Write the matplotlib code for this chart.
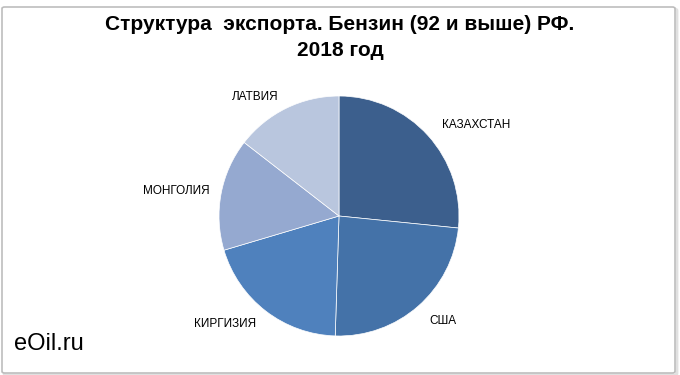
import matplotlib
matplotlib.use("Agg")
import matplotlib.pyplot as plt
from matplotlib.patches import FancyBboxPatch
import numpy as np

# ------------- data -------------
countries = ["КАЗАХСТАН", "США", "КИРГИЗИЯ", "МОНГОЛИЯ", "ЛАТВИЯ"]
shares = [26.6, 23.9, 19.9, 15.1, 14.5]
colors = ["#3C5F8D", "#4472A8", "#4F81BD", "#95A9D0", "#B9C6DE"]

plt.rcParams["font.family"] = ["Liberation Sans", "DejaVu Sans"]

W, H = 680, 375
fig = plt.figure(figsize=(W / 100, H / 100), dpi=100)
fig.patch.set_facecolor("white")

# outer frame (with a faint shadow)
shadow = FancyBboxPatch((4 / W, 0 / H), 673 / W, 366 / H,
                        boxstyle="round,pad=0,rounding_size=0.004",
                        transform=fig.transFigure, fill=False,
                        edgecolor="#E0E0E0", linewidth=2, zorder=-2)
frame = FancyBboxPatch((2 / W, 2 / H), 673 / W, 366 / H,
                       boxstyle="round,pad=0,rounding_size=0.004",
                       transform=fig.transFigure, facecolor="white",
                       edgecolor="#BDBDBD", linewidth=1.2, zorder=-1)
fig.patches.append(shadow)
fig.patches.append(frame)

# pie centre (339, 216) px, radius 120 px
cx, cy, r = 339, H - 216, 120
ax = fig.add_axes([(cx - r) / W, (cy - r) / H, 2 * r / W, 2 * r / H])
ax.set_zorder(1)
ax.patch.set_visible(False)
wedges, _ = ax.pie(shares, colors=colors, startangle=90, counterclock=False,
                   wedgeprops={"linewidth": 0.5, "edgecolor": "white"})
ax.set_xlim(-1, 1)
ax.set_ylim(-1, 1)
ax.axis("off")

# label placement (angle shift in degrees, distance in radii)
lab_pos = [(-8.5, 1.37), (3.6, 1.23), (-8.8, 1.31), (1.9, 1.37), (9.2, 1.21)]
for w, name, (da, dist) in zip(wedges, countries, lab_pos):
    mid = np.deg2rad((w.theta1 + w.theta2) / 2 + da)
    ax.text(dist * np.cos(mid), dist * np.sin(mid), name,
            ha="center", va="center", fontsize=8.5, color="black", clip_on=False)

fig.text(340 / W, 1 - 25 / H, "Структура  экспорта. Бензин (92 и выше) РФ.",
         ha="center", va="center", fontsize=15, fontweight="bold")
fig.text(340 / W, 1 - 50 / H, "2018 год",
         ha="center", va="center", fontsize=15, fontweight="bold")
fig.text(14 / W, 1 - 344 / H, "eOil.ru", ha="left", va="center", fontsize=17)

fig.savefig("out.png", dpi=100)
